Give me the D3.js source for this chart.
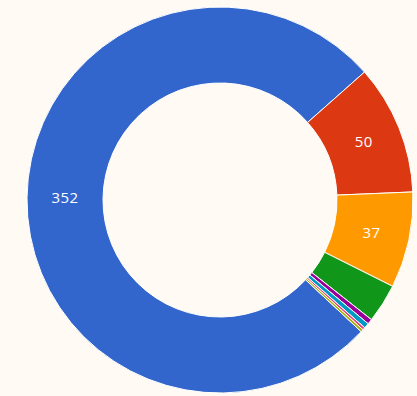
<!DOCTYPE html>
<html>
<head>
<meta charset="utf-8">
<script src="https://cdn.jsdelivr.net/npm/d3@7"></script>
<style>
  html, body { margin: 0; padding: 0; background: #fffbf4; }
  svg { display: block; }
</style>
</head>
<body>
<svg width="417" height="396"></svg>
<script>
const width = 417
const height = 396

// slices, clockwise
const categories = ['A', 'B', 'C', 'D', 'E', 'F', 'G', 'H']
const values = [352, 50, 37, 15, 2, 2, 1, 1]
const labels = ['352', '50', '37', '', '', '', '', '']
const colors = ['#3366cc', '#dc3912', '#ff9900', '#109618', '#990099', '#0099c6', '#dd4477', '#aaaa11']

const cx = 220
const cy = 200
const outer = 193
const inner = 117
const start = 133 * Math.PI / 180

const data = categories.map((c, i) => ({ name: c, value: values[i], label: labels[i], color: colors[i] }))

const svg = d3.select('svg')

const pie = d3.pie()
  .sort(null)
  .value(d => d.value)
  .startAngle(start)
  .endAngle(start + 2 * Math.PI)

const arc = d3.arc()
  .innerRadius(inner)
  .outerRadius(outer)

const labelArc = d3.arc()
  .innerRadius((inner + outer) / 2)
  .outerRadius((inner + outer) / 2)

const g = svg.append('g')
  .attr('transform', `translate(${cx},${cy})`)

const arcs = pie(data)

g.selectAll('path')
  .data(arcs)
  .enter().append('path')
  .attr('d', arc)
  .attr('fill', d => d.data.color)
  .attr('stroke', '#ffffff')
  .attr('stroke-width', 1)

// slice labels
g.selectAll('text')
  .data(arcs.filter(d => d.data.label))
  .enter().append('text')
  .attr('transform', d => `translate(${labelArc.centroid(d)})`)
  .attr('dy', '0.35em')
  .style('text-anchor', 'middle')
  .style('font-family', '"Open Sans", Lato, sans-serif')
  .style('font-size', '15px')
  .style('letter-spacing', '0.5px')
  .attr('fill', '#ffffff')
  .text(d => d.data.label)
</script>
</body>
</html>
